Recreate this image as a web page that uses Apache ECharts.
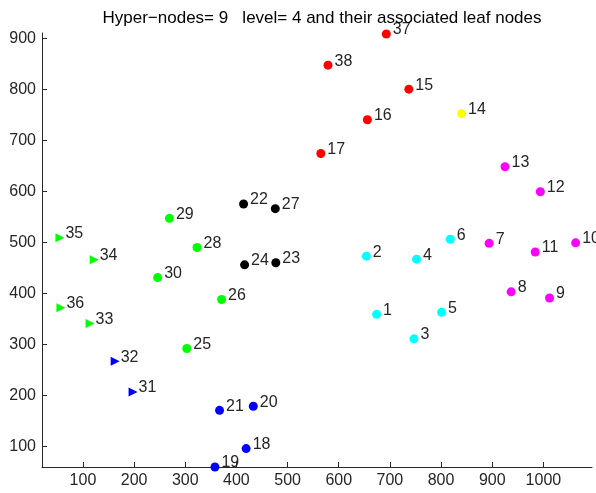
<!DOCTYPE html>
<html lang="en">
<head>
    <meta charset="utf-8">
    <title>Hyper-nodes level 4</title>
    <script src="https://cdn.jsdelivr.net/npm/echarts@6/dist/echarts.min.js"></script>
    <style>
        html, body { margin: 0; padding: 0; background: #fff; }
        #chart { width: 596px; height: 493px; }
    </style>
</head>
<body>
<div id="chart"></div>
<script type="text/javascript">
    // node values
    var cyanIds = [1, 2, 3, 4, 5, 6];
    var cyanX = [674, 654, 747, 752, 801, 818];
    var cyanY = [359, 473, 311, 467, 363, 506];

    var magentaIds = [7, 8, 9, 10, 11, 12, 13];
    var magentaX = [894, 937, 1012, 1063, 984, 994, 925];
    var magentaY = [498, 403, 391, 499, 481, 599, 648];

    var yellowIds = [14];
    var yellowX = [840];
    var yellowY = [752];

    var redIds = [15, 16, 17, 37, 38];
    var redX = [737, 656, 565, 693, 579];
    var redY = [800, 740, 674, 908, 847];

    var blueIds = [18, 19, 20, 21];
    var blueX = [419, 358, 433, 367];
    var blueY = [96, 60, 179, 171];

    var blueTriIds = [31, 32];
    var blueTriX = [198, 163];
    var blueTriY = [207, 267];

    var blackIds = [22, 23, 24, 27];
    var blackX = [414, 477, 416, 476];
    var blackY = [575, 460, 456, 566];

    var greenIds = [25, 26, 28, 29, 30];
    var greenX = [303, 371, 323, 269, 246];
    var greenY = [292, 388, 490, 547, 431];

    var greenTriIds = [33, 34, 35, 36];
    var greenTriX = [114, 122, 55, 57];
    var greenTriY = [341, 466, 509, 372];

    var xTicks = [100, 200, 300, 400, 500, 600, 700, 800, 900, 1000];
    var yTicks = [100, 200, 300, 400, 500, 600, 700, 800, 900];

    var font = "'Liberation Sans', Arial, sans-serif";
    var textColor = '#262626';

    function pts(ids, xs, ys) {
        var out = [];
        for (var i = 0; i < ids.length; i++) {
            out.push([xs[i], ys[i], ids[i]]);
        }
        return out;
    }

    function dots(ids, xs, ys, color, tri) {
        return {
            type: 'scatter',
            data: pts(ids, xs, ys),
            symbol: tri ? 'triangle' : 'circle',
            symbolSize: tri ? 9 : 9,
            symbolRotate: tri ? -90 : 0,
            itemStyle: { color: color, opacity: 1 },
            label: {
                show: true,
                position: 'right',
                distance: tri ? 1 : 2,
                offset: [0, -4],
                formatter: function (p) { return p.value[2]; },
                fontFamily: font,
                fontSize: 16,
                color: textColor
            },
            emphasis: { disabled: true },
            animation: false
        };
    }

    var chart = echarts.init(document.getElementById('chart'));
    chart.setOption({
        backgroundColor: '#fff',
        animation: false,
        title: {
            text: 'Hyper\u2212nodes= 9   level= 4 and their associated leaf nodes',
            left: 317,
            textAlign: 'center',
            top: 5,
            textStyle: { fontFamily: font, fontSize: 17, fontWeight: 'normal', color: '#000' }
        },
        grid: { left: 42, right: 4, top: 33, bottom: 26, containLabel: false },
        xAxis: {
            type: 'value',
            min: 20,
            max: 1095,
            axisLine: { show: true, lineStyle: { color: '#262626', width: 1 } },
            axisTick: { show: true, inside: true, length: 5, customValues: xTicks, lineStyle: { color: '#262626' } },
            axisLabel: {
                customValues: xTicks,
                formatter: function (v) { return String(v); },
                margin: 6, fontFamily: font, fontSize: 16, color: textColor
            },
            splitLine: { show: false }
        },
        yAxis: {
            type: 'value',
            min: 60,
            max: 910,
            axisLine: { show: true, lineStyle: { color: '#262626', width: 1 } },
            axisTick: { show: true, inside: true, length: 5, customValues: yTicks, lineStyle: { color: '#262626' } },
            axisLabel: {
                customValues: yTicks,
                formatter: function (v) { return String(v); },
                margin: 6, fontFamily: font, fontSize: 16, color: textColor
            },
            splitLine: { show: false }
        },
        series: [
            dots(cyanIds, cyanX, cyanY, '#00ffff', false),
            dots(magentaIds, magentaX, magentaY, '#ff00ff', false),
            dots(yellowIds, yellowX, yellowY, '#ffff00', false),
            dots(redIds, redX, redY, '#ff0000', false),
            dots(blueIds, blueX, blueY, '#0000ff', false),
            dots(blueTriIds, blueTriX, blueTriY, '#0000ff', true),
            dots(blackIds, blackX, blackY, '#000000', false),
            dots(greenIds, greenX, greenY, '#00ff00', false),
            dots(greenTriIds, greenTriX, greenTriY, '#00ff00', true)
        ]
    });
</script>
</body>
</html>
